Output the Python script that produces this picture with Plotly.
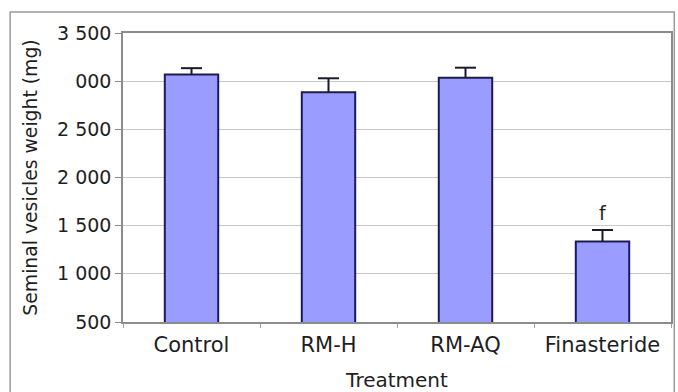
import plotly.graph_objects as go

categories = ["Control", "RM-H", "RM-AQ", "Finasteride"]
weights = [3070, 2885, 3035, 1335]
errors = [65, 145, 105, 120]
sig_labels = ["", "", "", "f"]
tick_vals = [500, 1000, 1500, 2000, 2500, 3000, 3500]
tick_text = ["500", "1 000", "1 500", "2 000", "2 500", "000", "3 500"]

FONT = "DejaVu Sans, Verdana, sans-serif"
TXT = "#1e1e1e"

fig = go.Figure()
fig.add_trace(go.Bar(
    x=categories, y=weights, width=0.39, base=0,
    marker=dict(color="#9a9cff", line=dict(color="#1a1a5e", width=2)),
    hoverinfo="skip",
))

# upper-only error bars: stems + caps built from the data
stem_x, stem_y = [], []
for c, v, e in zip(categories, weights, errors):
    stem_x += [c, c, None]
    stem_y += [v, v + e, None]
fig.add_trace(go.Scatter(x=stem_x, y=stem_y, mode="lines",
                         line=dict(color="#1a1a2e", width=2), hoverinfo="skip"))
fig.add_trace(go.Scatter(x=categories, y=[v + e for v, e in zip(weights, errors)],
                         mode="markers",
                         marker=dict(symbol="line-ew", size=15,
                                     line=dict(color="#1a1a2e", width=2)),
                         hoverinfo="skip"))

for c, v, e, s in zip(categories, weights, errors, sig_labels):
    if s:
        fig.add_annotation(x=c, y=v + e, text=s, showarrow=False,
                           yanchor="bottom", yshift=4,
                           font=dict(family=FONT, size=19, color=TXT))

fig.update_layout(
    width=678, height=392,
    margin=dict(l=123, r=7, t=33, b=70),
    paper_bgcolor="white", plot_bgcolor="white",
    showlegend=False,
    font=dict(family=FONT, size=19, color=TXT),
    xaxis=dict(
        title=dict(text="Treatment", font=dict(size=20), standoff=18),
        tickfont=dict(size=21), ticklabelstandoff=3, automargin=False,
        showline=True, linecolor="#8c8c8c", linewidth=1.5, mirror=True,
        ticks="outside", tickson="boundaries", ticklen=4, tickcolor="#a0a0a0",
        showgrid=False,
    ),
    yaxis=dict(
        title=dict(text="Seminal vesicles weight (mg)", font=dict(size=18.8), standoff=14),
        tickfont=dict(size=19), automargin=False,
        range=[500, 3500], tickvals=tick_vals, ticktext=tick_text,
        showline=True, linecolor="#8c8c8c", linewidth=1.5, mirror=True,
        ticks="outside", ticklen=6, tickcolor="#8c8c8c",
        showgrid=True, gridcolor="#c8c8c8", gridwidth=1,
        zeroline=False,
    ),
    shapes=[dict(type="rect", xref="paper", yref="paper",
                 x0=-0.206, x1=1.006, y0=-0.26, y1=1.073,
                 line=dict(color="#9a9a9a", width=1.5), fillcolor="rgba(0,0,0,0)",
                 layer="below")],
)

fig.write_html("out.html")
